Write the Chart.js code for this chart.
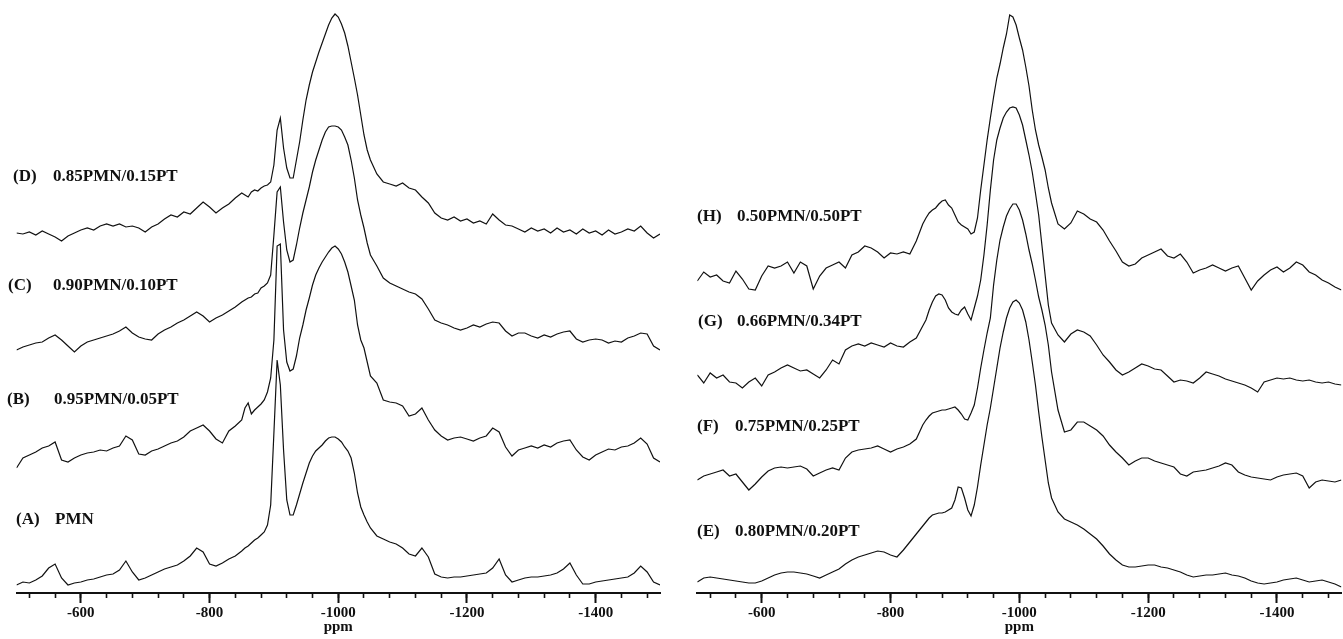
<!DOCTYPE html>
<html><head><meta charset="utf-8">
<script src="https://cdn.jsdelivr.net/npm/chart.js@4/dist/chart.umd.min.js"></script>
<style>
html,body{margin:0;padding:0;background:#fff;}
#wrap{position:relative;width:1343px;height:639px;overflow:hidden;background:#fff;}
.panel{position:absolute;top:0;height:639px;}
.lbl{position:absolute;font-family:"Liberation Serif","Times New Roman",serif;font-weight:bold;font-size:17px;color:#111;white-space:nowrap;line-height:1;transform:translateY(-50%);}
</style></head><body>
<div id="wrap">
  <div class="panel" style="left:0;width:680px"><canvas id="cL" width="680" height="639"></canvas></div>
  <div class="panel" style="left:680px;width:663px"><canvas id="cR" width="663" height="639"></canvas></div>
</div>
<script>
// chemical shift grid (ppm)
const ppm = [-500,-510,-520,-530,-540,-550,-560,-570,-580,-590,-600,-610,-620,-630,-640,-650,-660,-670,-680,-690,-700,-710,-720,-730,-740,-750,-760,-770,-780,-790,-800,-810,-820,-830,-840,-850,
-855,-860,-865,-870,-875,-880,-885,-890,-895,-900,-905,-910,-915,-920,-925,-930,-935,-940,-945,-950,-955,-960,-965,-970,-975,-980,-985,-990,-995,-1000,-1005,-1010,-1015,-1020,-1025,-1030,-1035,-1040,-1045,
-1050,-1060,-1070,-1080,-1090,-1100,-1110,-1120,-1130,-1140,-1150,-1160,-1170,-1180,-1190,-1200,-1210,-1220,-1230,-1240,-1250,-1260,-1270,-1280,-1290,-1300,-1310,-1320,-1330,-1340,-1350,-1360,-1370,-1380,-1390,-1400,-1410,-1420,-1430,-1440,-1450,-1460,-1470,-1480,-1490,-1500];

// stacked intensities (a.u.), left panel
const specD = [360,359,361,358,362,359,356,352,357,360,363,365,363,367,369,367,369,366,367,365,361,366,369,374,378,376,381,379,385,391,386,380,385,389,395,400,
398,396,401,403,402,405,407,408,411,428,463,475,445,425,415,415,433,451,473,493,508,521,531,541,550,559,568,575,579,576,569,560,547,531,515,498,478,458,443,
433,419,411,409,407,410,405,403,396,390,380,375,373,376,372,374,370,372,369,379,373,368,367,364,361,365,362,364,360,365,361,363,359,364,360,362,358,363,359,361,364,362,367,360,355,359];
const specC = [243,246,248,250,251,255,258,253,247,241,247,251,253,255,257,259,262,266,260,256,254,253,259,263,266,270,273,277,281,277,271,275,278,282,286,291,
293,295,296,299,300,305,307,310,318,358,401,406,371,343,331,333,348,365,380,393,406,421,433,443,453,461,466,467,467,466,463,456,448,433,415,393,378,365,350,
338,327,315,310,307,304,301,299,294,284,273,270,268,265,263,265,268,266,269,271,270,262,257,260,260,257,255,258,256,259,261,262,254,251,253,254,253,250,252,251,255,257,260,259,247,243];
const specB = [125,135,138,141,145,147,151,133,131,135,138,140,141,143,142,145,147,157,153,139,138,142,144,147,150,152,156,162,165,168,162,154,150,162,167,173,
185,190,179,183,186,189,193,201,215,253,347,349,263,231,222,224,237,255,268,283,295,308,318,325,331,336,341,345,347,344,339,331,321,307,293,268,253,245,231,
217,210,193,191,190,187,177,179,185,173,163,157,153,155,156,154,152,155,157,165,161,146,137,143,145,147,145,148,146,150,152,153,143,136,133,138,141,144,143,146,147,150,155,149,135,131];
const specA = [8,11,10,13,17,25,29,15,8,10,11,13,14,16,18,19,23,32,21,13,15,18,21,24,26,28,32,37,45,41,29,27,30,34,37,42,
45,47,50,53,55,58,61,68,88,160,233,208,143,93,78,78,88,99,110,120,130,137,142,145,148,152,155,156,156,154,151,146,142,135,120,100,86,78,71,
65,57,54,51,49,45,39,37,45,36,19,16,15,16,16,17,18,19,20,25,34,18,11,13,15,16,16,17,18,20,24,30,18,9,9,11,12,13,14,15,16,20,27,21,11,8];

// stacked intensities (a.u.), right panel
const specH = [312,321,316,318,312,310,322,314,304,303,317,327,325,327,331,320,331,327,304,317,325,328,331,325,338,341,347,345,341,335,340,339,341,339,352,369,
375,380,383,385,389,392,393,388,385,378,371,368,366,364,359,361,375,403,428,453,475,496,515,529,545,559,578,576,568,555,543,526,507,483,463,448,436,423,405,
390,369,364,370,382,379,374,371,363,352,342,331,327,329,335,338,341,344,337,335,339,331,320,323,325,328,325,322,325,327,315,303,312,318,323,326,321,325,331,328,321,318,313,310,306,303];
const specG = [218,210,220,215,218,211,210,205,211,215,207,218,221,225,228,225,222,223,219,215,223,233,229,243,247,249,247,250,248,246,250,247,246,251,255,267,
273,283,291,297,299,298,293,285,281,279,278,283,286,279,273,285,297,313,338,368,403,433,453,465,475,481,485,486,485,478,468,453,438,421,400,378,348,318,288,
270,258,251,259,263,261,257,248,238,231,223,218,221,225,229,227,224,223,217,211,213,212,210,215,221,219,217,214,212,210,208,205,201,211,213,215,214,215,213,212,213,211,210,211,209,208];
const specF = [113,117,119,121,123,117,119,111,103,109,116,122,125,126,125,126,127,124,117,120,123,125,123,135,141,143,144,145,147,144,141,144,146,149,154,168,
173,177,180,181,182,183,183,184,185,186,183,179,174,173,180,188,205,225,243,260,275,308,333,353,366,377,384,389,389,383,373,359,343,329,313,296,283,268,248,
221,183,161,163,171,171,167,163,157,148,141,135,128,132,135,135,132,130,128,126,119,117,121,122,123,125,127,130,128,121,118,116,115,114,113,116,118,119,120,117,105,111,113,112,111,113];
const specE = [11,15,16,15,14,13,12,11,10,10,12,15,18,20,21,21,20,19,17,15,18,21,24,29,33,36,38,40,42,41,38,36,43,51,59,67,
71,75,78,79,80,80,81,83,85,93,106,105,95,83,77,88,106,128,148,168,185,205,225,245,261,275,285,291,293,290,283,271,253,231,208,181,156,133,110,
95,81,74,71,68,64,59,54,47,39,33,28,26,26,27,28,28,26,25,23,21,18,16,17,18,18,19,20,18,17,15,12,10,9,10,11,13,14,15,13,11,12,13,11,9,6];

// axis ticks
const majorTicks = [-600,-800,-1000,-1200,-1400];
const minorTicks = [-520,-560,-600,-640,-680,-720,-760,-800,-840,-880,-920,-960,-1000,-1040,-1080,-1120,-1160,-1200,-1240,-1280,-1320,-1360,-1400,-1440,-1480];

// sample labels
const tagsLeft = ['(D)','(C)','(B)','(A)'];
const namesLeft = ['0.85PMN/0.15PT','0.90PMN/0.10PT','0.95PMN/0.05PT','PMN'];
const tagsRight = ['(H)','(G)','(F)','(E)'];
const namesRight = ['0.50PMN/0.50PT','0.66PMN/0.34PT','0.75PMN/0.25PT','0.80PMN/0.20PT'];

const FONT = '"Liberation Serif","Times New Roman",serif';

function makeChart(id, series, padL, padR) {
  return new Chart(document.getElementById(id), {
    type: 'line',
    data: {
      datasets: series.map(s => ({
        data: ppm.map((p, i) => ({x: p, y: s[i]})),
        xAxisID: 'x', yAxisID: 'y',
        borderColor: '#111', borderWidth: 1.2, pointRadius: 0, tension: 0, fill: false
      }))
    },
    options: {
      responsive: false, animation: false, devicePixelRatio: 1, events: [],
      layout: {padding: {left: padL, right: padR, top: 0, bottom: 0}},
      plugins: {legend: {display: false}, tooltip: {enabled: false}},
      scales: {
        y: {display: false, min: 0, max: 593},
        xMinor: {
          type: 'linear', position: 'bottom', axis: 'x', min: -1500, max: -500, reverse: true, weight: 0,
          afterBuildTicks: sc => { sc.ticks = minorTicks.map(v => ({value: v})); },
          ticks: {display: false, autoSkip: false},
          grid: {display: true, drawOnChartArea: false, drawTicks: true, tickLength: 5, tickColor: '#111', tickWidth: 1.6},
          border: {display: false},
          afterFit: sc => { sc.height = 0; }
        },
        x: {
          type: 'linear', position: 'bottom', min: -1500, max: -500, reverse: true, weight: 1,
          afterBuildTicks: sc => { sc.ticks = majorTicks.map(v => ({value: v})); },
          ticks: {autoSkip: false, maxRotation: 0, padding: 1, color: '#111',
                  font: {family: FONT, weight: 'bold', size: 15}, callback: v => String(v)},
          grid: {display: true, drawOnChartArea: false, drawTicks: true, tickLength: 10, tickColor: '#111', tickWidth: 2},
          border: {display: true, color: '#111', width: 2},
          title: {display: true, text: 'ppm', color: '#111', font: {family: FONT, weight: 'bold', size: 15}, padding: {top: 0, bottom: 3}},
          afterFit: sc => { sc.height = 46; }
        }
      }
    }
  });
}

makeChart('cL', [specD, specC, specB, specA], 16.5, 20);
makeChart('cR', [specH, specG, specF, specE], 17.3, 1.6);

// label layout
const wrap = document.getElementById('wrap');
function addLabels(tags, names, tagX, nameX, ys) {
  tags.forEach((t, i) => {
    const a = document.createElement('div');
    a.className = 'lbl'; a.textContent = t;
    a.style.left = tagX[i] + 'px'; a.style.top = ys[i] + 'px';
    wrap.appendChild(a);
    const b = document.createElement('div');
    b.className = 'lbl'; b.textContent = names[i];
    b.style.left = nameX[i] + 'px'; b.style.top = ys[i] + 'px';
    wrap.appendChild(b);
  });
}
addLabels(tagsLeft, namesLeft, [13, 8, 7, 16], [53, 53, 54, 55], [175, 284, 398, 518]);
addLabels(tagsRight, namesRight, [697, 698, 697, 697], [737, 737, 735, 735], [215, 320, 425, 530]);
</script>
</body></html>
